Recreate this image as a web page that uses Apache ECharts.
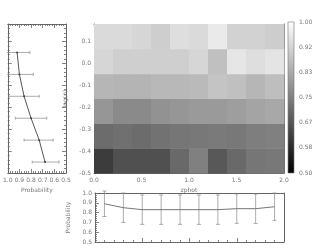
<!DOCTYPE html>
<html><head><meta charset="utf-8">
<script src="https://cdn.jsdelivr.net/npm/echarts@6/dist/echarts.min.js"></script>
<style>html,body{margin:0;padding:0;background:#fff}#c{width:316px;height:249px}</style>
</head><body><div id="c"></div>
<script>
// ---- data ----
const zphotEdges = [0.0,0.2,0.4,0.6,0.8,1.0,1.2,1.4,1.6,1.8,2.0];
const lognEdges = [-0.5,-0.387,-0.273,-0.16,-0.047,0.067,0.18];
// heatmap rows, from bottom (log n = -0.5) to top
const row0 = [0.618,0.657,0.657,0.657,0.706,0.751,0.673,0.706,0.731,0.735];
const row1 = [0.712,0.720,0.712,0.724,0.731,0.735,0.739,0.735,0.747,0.751];
const row2 = [0.794,0.771,0.771,0.786,0.794,0.802,0.802,0.810,0.822,0.829];
const row3 = [0.857,0.853,0.853,0.861,0.861,0.865,0.884,0.876,0.857,0.873];
const row4 = [0.920,0.906,0.906,0.906,0.906,0.920,0.876,0.951,0.935,0.947];
const row5 = [0.927,0.927,0.920,0.904,0.935,0.927,0.959,0.912,0.912,0.902];
const cellRows = [row0,row1,row2,row3,row4,row5];
const colorbarRange = [0.5, 1.0];
// left panel: probability vs log(n)
const leftLogN = [0.05,-0.05,-0.15,-0.25,-0.35,-0.45];
const leftProb = [0.92,0.90,0.86,0.80,0.73,0.68];
const leftLow  = [0.81,0.78,0.73,0.665,0.61,0.56];
const leftHigh = [1.03,1.02,0.99,0.935,0.86,0.79];
// bottom panel: probability vs zphot
const bottomZphot = [0.1,0.3,0.5,0.7,0.9,1.1,1.3,1.5,1.7,1.9];
const bottomProb = [0.89,0.85,0.83,0.83,0.83,0.83,0.83,0.84,0.84,0.86];
const bottomLow  = [0.76,0.70,0.68,0.68,0.68,0.68,0.68,0.69,0.69,0.72];
const bottomHigh = [1.02,1.00,0.98,0.98,0.98,0.98,0.98,0.99,0.99,1.00];

// ---- build ----
const FONT = 'DejaVu Sans';
const AX = '#666', TXT = '#777', FS = 6;
const cells = [];
cellRows.forEach((row, j) => row.forEach((v, i) => {
  cells.push([zphotEdges[i], zphotEdges[i+1], lognEdges[j], lognEdges[j+1], v]);
}));

function lab(o) {
  return Object.assign({show: true, fontSize: FS, color: TXT, fontFamily: FONT, margin: 4}, o || {});
}
function axis(o) {
  const base = {
    type: 'value',
    axisLine: {show: true, onZero: false, lineStyle: {color: AX, width: 1}},
    axisTick: {show: true, inside: true, length: 4, lineStyle: {color: AX, width: 0.8}},
    minorTick: {show: true, splitNumber: 5, length: 2, lineStyle: {color: AX, width: 0.8}},
    splitLine: {show: false},
    axisLabel: lab(),
    nameTextStyle: {fontSize: FS, color: TXT, fontFamily: FONT}
  };
  return Object.assign(base, o);
}
const noLabel = {show: false};

const option = {
  animation: false,
  backgroundColor: '#fff',
  grid: [
    {left: 94, top: 24, width: 190, height: 149},
    {left: 3, top: 24, width: 63, height: 149},
    {left: 95, top: 193, width: 189, height: 49},
    {left: 288, top: 22, width: 6, height: 151}
  ],
  xAxis: [
    axis({gridIndex: 0, min: 0, max: 2, interval: 0.5, position: 'bottom',
      axisLabel: lab({formatter: v => v.toFixed(1)}),
      name: 'zphot', nameLocation: 'middle', nameGap: 10}),
    axis({gridIndex: 0, min: 0, max: 2, interval: 0.5, position: 'top', axisLabel: noLabel}),
    axis({gridIndex: 1, min: 0.5, max: 1.0, interval: 0.1, inverse: true, position: 'bottom',
      axisLabel: lab({formatter: v => v.toFixed(1)}),
      name: 'Probability', nameLocation: 'middle', nameGap: 10}),
    axis({gridIndex: 1, min: 0.5, max: 1.0, interval: 0.1, inverse: true, position: 'top', axisLabel: noLabel}),
    axis({gridIndex: 2, min: 0, max: 2, interval: 0.5, position: 'bottom', axisLabel: noLabel}),
    axis({gridIndex: 2, min: 0, max: 2, interval: 0.5, position: 'top', axisLabel: noLabel, axisTick: {show: false}, minorTick: {show: false}}),
    {type: 'value', gridIndex: 3, min: 0, max: 1, show: false}
  ],
  yAxis: [
    axis({gridIndex: 0, min: -0.5, max: 0.18, interval: 0.1, position: 'left',
      axisLabel: lab({margin: 3, showMaxLabel: false, formatter: v => v.toFixed(1)}),
      name: 'log(n)', nameLocation: 'middle', nameGap: 18, nameRotate: 90}),
    axis({gridIndex: 0, min: -0.5, max: 0.18, interval: 0.1, position: 'right', axisLabel: noLabel}),
    axis({gridIndex: 1, min: -0.5, max: 0.18, interval: 0.1, position: 'left', axisLabel: noLabel}),
    axis({gridIndex: 1, min: -0.5, max: 0.18, interval: 0.1, position: 'right', axisLabel: noLabel}),
    axis({gridIndex: 2, min: 0.5, max: 1.0, interval: 0.1, position: 'left',
      axisLabel: lab({margin: 3, formatter: v => v.toFixed(1)}),
      name: 'Probability', nameLocation: 'middle', nameGap: 16, nameRotate: 90}),
    axis({gridIndex: 2, min: 0.5, max: 1.0, interval: 0.1, position: 'right', axisLabel: noLabel, axisTick: {show: false}, minorTick: {show: false}}),
    {type: 'value', gridIndex: 3, min: colorbarRange[0], max: colorbarRange[1], interval: (colorbarRange[1]-colorbarRange[0])/6,
      position: 'right', axisLine: {show: false}, axisTick: {show: false}, splitLine: {show: false},
      axisLabel: lab({margin: 5, formatter: v => v.toFixed(2)})}
  ],
  visualMap: {
    show: false, type: 'continuous', seriesIndex: 0, dimension: 4,
    min: colorbarRange[0], max: colorbarRange[1], inRange: {color: ['#000000', '#ffffff']}
  },
  series: [
    {
      type: 'custom', xAxisIndex: 0, yAxisIndex: 0, data: cells,
      encode: {x: [0, 1], y: [2, 3]},
      renderItem: (params, api) => {
        const p0 = api.coord([api.value(0), api.value(2)]);
        const p1 = api.coord([api.value(1), api.value(3)]);
        return {type: 'rect', shape: {x: p0[0], y: p1[1], width: p1[0] - p0[0] + 0.5, height: p0[1] - p1[1] + 0.5},
          style: {fill: api.visual('color')}};
      }
    },
    {
      type: 'custom', xAxisIndex: 6, yAxisIndex: 6, data: [[0, colorbarRange[0], 1, colorbarRange[1]]],
      encode: {x: [0, 2], y: [1, 3]},
      renderItem: (params, api) => {
        const p0 = api.coord([api.value(0), api.value(1)]);
        const p1 = api.coord([api.value(2), api.value(3)]);
        return {type: 'rect', shape: {x: p0[0], y: p1[1], width: p1[0] - p0[0], height: p0[1] - p1[1]},
          style: {fill: new echarts.graphic.LinearGradient(0, 0, 0, 1, [{offset: 0, color: '#fff'}, {offset: 1, color: '#000'}]),
            stroke: '#777', lineWidth: 0.6}};
      }
    },
    {
      type: 'custom', xAxisIndex: 2, yAxisIndex: 2, clip: true,
      data: leftLogN.map((y, i) => [y, leftLow[i], leftHigh[i]]),
      encode: {x: [1, 2], y: 0},
      renderItem: (params, api) => {
        const a = api.coord([api.value(1), api.value(0)]);
        const b = api.coord([api.value(2), api.value(0)]);
        const st = {stroke: '#888', lineWidth: 0.7};
        return {type: 'group', children: [
          {type: 'line', shape: {x1: a[0], y1: a[1], x2: b[0], y2: b[1]}, style: st},
          {type: 'line', shape: {x1: a[0], y1: a[1] - 1.5, x2: a[0], y2: a[1] + 1.5}, style: st},
          {type: 'line', shape: {x1: b[0], y1: b[1] - 1.5, x2: b[0], y2: b[1] + 1.5}, style: st}
        ]};
      }
    },
    {
      type: 'line', xAxisIndex: 2, yAxisIndex: 2,
      data: leftLogN.map((y, i) => [leftProb[i], y]),
      symbol: 'circle', symbolSize: 2, showSymbol: true,
      lineStyle: {color: '#444', width: 0.9}, itemStyle: {color: '#444'}
    },
    {
      type: 'custom', xAxisIndex: 4, yAxisIndex: 4, clip: false,
      data: bottomZphot.map((x, i) => [x, bottomLow[i], bottomHigh[i]]),
      encode: {x: 0, y: [1, 2]},
      renderItem: (params, api) => {
        const a = api.coord([api.value(0), api.value(1)]);
        const b = api.coord([api.value(0), api.value(2)]);
        const st = {stroke: '#888', lineWidth: 0.7};
        return {type: 'group', children: [
          {type: 'line', shape: {x1: a[0], y1: a[1], x2: b[0], y2: b[1]}, style: st},
          {type: 'line', shape: {x1: a[0] - 2, y1: a[1], x2: a[0] + 2, y2: a[1]}, style: st},
          {type: 'line', shape: {x1: b[0] - 2, y1: b[1], x2: b[0] + 2, y2: b[1]}, style: st}
        ]};
      }
    },
    {
      type: 'line', xAxisIndex: 4, yAxisIndex: 4,
      data: bottomZphot.map((x, i) => [x, bottomProb[i]]),
      symbol: 'none', lineStyle: {color: '#666', width: 0.9}
    }
  ]
};
const chart = echarts.init(document.getElementById('c'), null, {renderer: 'canvas'});
chart.setOption(option);
</script>
</body></html>
